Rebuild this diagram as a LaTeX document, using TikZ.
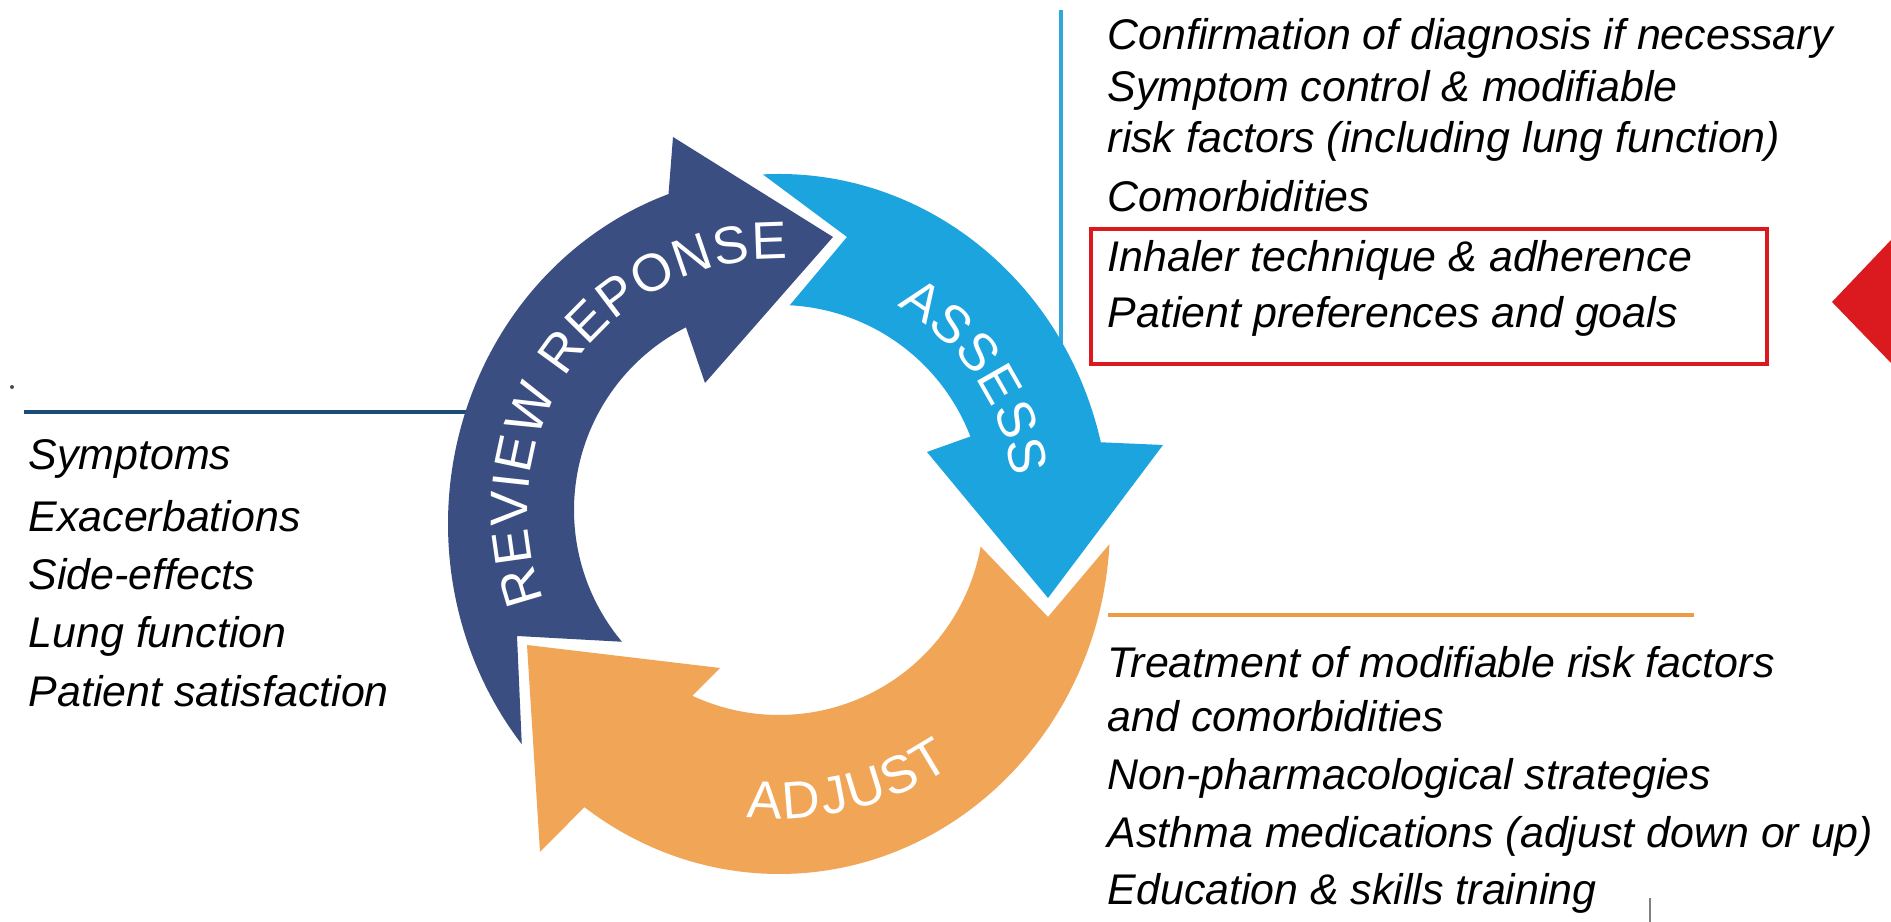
\documentclass[tikz,border=0pt]{standalone}
\usepackage{fontspec}
\setmainfont{Liberation Sans}
\usepackage{tikz}
\usetikzlibrary{shapes,arrows}
\usetikzlibrary{calc}
\usetikzlibrary{decorations.text}
\definecolor{navyarrow}{HTML}{3B4E82}
\definecolor{cyanarrow}{HTML}{1CA4DF}
\definecolor{orangearrow}{HTML}{F1A556}
\definecolor{navyline}{HTML}{1D4B79}
\definecolor{cyanline}{HTML}{2FA7DA}
\definecolor{orangeline}{HTML}{EE9B45}
\definecolor{boxred}{HTML}{DA1A1F}
\tikzstyle{bag} = [anchor=base west, inner sep=0pt, font=\fontsize{12.2}{14}\selectfont\itshape]
\tikzstyle{rule} = [line cap=butt]
\newcommand{\ringfont}{\color{white}\fontsize{15}{15}\selectfont}

\begin{document}
\begin{tikzpicture}[x=0.01cm, y=0.01cm]
\useasboundingbox[fill=white] (0,0) rectangle (1891,922);
\coordinate (c1) at (779,412);
\coordinate (c2) at (779,398);

% side rules
\coordinate (nl1) at (24,510);   \coordinate (nl2) at (466,510);
\coordinate (cl1) at (1061,912); \coordinate (cl2) at (1061,560);
\coordinate (ol1) at (1108,307); \coordinate (ol2) at (1694,307);
\draw[rule, navyline, line width=1.2pt] (nl1) -- (nl2);
\draw[rule, cyanline, line width=0.9pt] (cl1) -- (cl2);
\draw[rule, orangeline, line width=1.4pt] (ol1) -- (ol2);

% review reponse
\fill[navyarrow] ($(c1)+(220:205)$) -- (517,286) -- ($(c2)+(219:331 and 350)$)
    arc[start angle=219, end angle=109.5, x radius=331, y radius=350]
    -- (673,785) -- (833,685) -- (705,539) -- ($(c1)+(117:205)$)
    arc[start angle=117, end angle=220, radius=205] -- cycle;
% assess
\fill[cyanarrow] ($(c1)+(87:205)$) -- (847,685) -- ($(c2)+(92.8:331 and 350)$)
    arc[start angle=92.8, end angle=13.5, x radius=331, y radius=350]
    -- (1163,477) -- (1048,324) -- (927,470) -- ($(c1)+(21:205)$)
    arc[start angle=21, end angle=87, radius=205] -- cycle;
% adjust
\fill[orangearrow] ($(c1)+(-10.3:205)$) -- (1048,305) -- ($(c2)+(-3.3:331 and 350)$)
    arc[start angle=-3.3, end angle=-126, x radius=331, y radius=350]
    -- (540,70) -- (527,277) -- (720,254) -- ($(c1)+(-115:205)$)
    arc[start angle=-115, end angle=-10.3, radius=205] -- cycle;

\path[decorate, decoration={text along path, text={|\ringfont|REVIEW REPONSE}, text align=fit to path}]
    ($(c1)+(201:251)$) arc[start angle=201, end angle=88, radius=251];
\path[decorate, decoration={text along path, text={|\ringfont|ASSESS}, text align=fit to path}]
    ($(c1)+(60:236)$) arc[start angle=60, end angle=8, radius=236];
\path[decorate, decoration={text along path, text={|\ringfont|ADJUST}, text align=fit to path}]
    ($(c1)+(-96:309)$) arc[start angle=-96, end angle=-56, radius=309];

% assess list
\node[bag] (conf) at (1107,872) {Confirmation of diagnosis if necessary};
\node[bag] (symp) at (1107,820) {Symptom control \& modifiable};
\node[bag] (risk) at (1107,769) {risk factors (including lung function)};
\node[bag] (como) at (1107,710) {Comorbidities};
\node[bag] (inha) at (1107,650) {Inhaler technique \& adherence};
\node[bag] (goal) at (1107,594) {Patient preferences and goals};
\draw[boxred, line width=1.4pt] (1091,693) rectangle (1767,558);
\fill[boxred] (1832,620) -- (1891,682) -- (1891,559) -- cycle;

% review list
\node[bag] (sym) at (28,452) {Symptoms};
\node[bag] (exa) at (28,390) {Exacerbations};
\node[bag] (sid) at (28,332) {Side-effects};
\node[bag] (lun) at (28,274) {Lung function};
\node[bag] (sat) at (28,215) {Patient satisfaction};
\fill[black!70] (12,535) circle (2);

% adjust list
\node[bag] (trea) at (1107,244) {Treatment of modifiable risk factors};
\node[bag] (andc) at (1107,190) {and comorbidities};
\node[bag] (nonp) at (1107,132) {Non-pharmacological strategies};
\node[bag] (asth) at (1107,74) {Asthma medications (adjust down or up)};
\node[bag] (educ) at (1107,17) {Education \& skills training};
\draw[black!50, line width=0.5pt] (1650,24) -- (1650,0);
\end{tikzpicture}
\end{document}
